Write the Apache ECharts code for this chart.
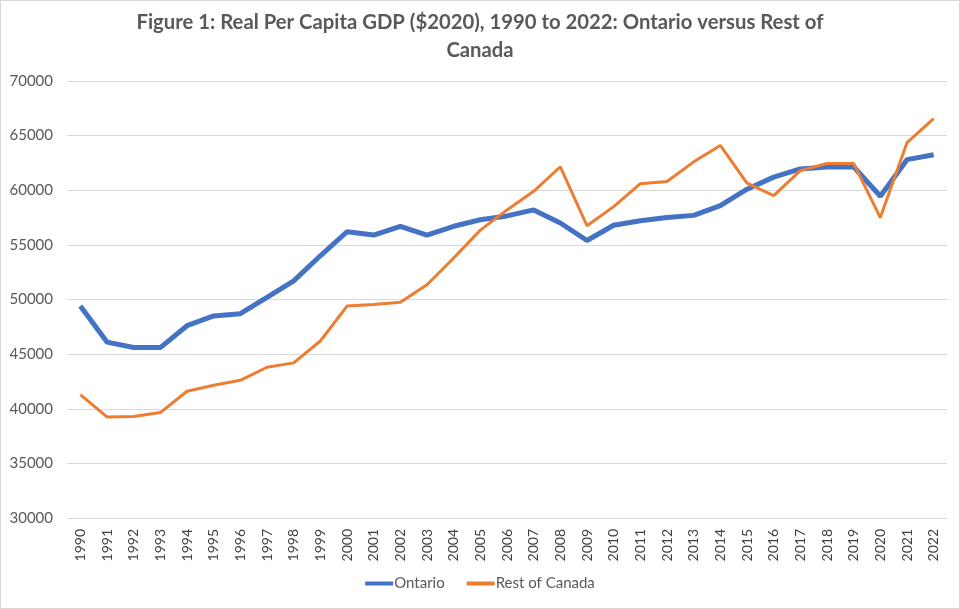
<!DOCTYPE html>
<html>
<head>
<meta charset="utf-8">
<script src="https://cdn.jsdelivr.net/npm/echarts@6/dist/echarts.min.js"></script>
<style>
html,body{margin:0;padding:0;background:#fff;}
#chart{width:960px;height:609px;box-sizing:border-box;border:1px solid #d9d9d9;}
</style>
</head>
<body>
<div id="chart"></div>
<script>
const years = ['1990','1991','1992','1993','1994','1995','1996','1997','1998','1999','2000','2001','2002','2003','2004','2005','2006','2007','2008','2009','2010','2011','2012','2013','2014','2015','2016','2017','2018','2019','2020','2021','2022'];
const ontario = [49400,46100,45600,45600,47600,48500,48700,50200,51700,54000,56200,55900,56700,55900,56700,57300,57650,58200,57000,55400,56800,57200,57500,57700,58600,60100,61200,61950,62120,62150,59450,62800,63250];
const restOfCanada = [41300,39250,39300,39650,41600,42150,42600,43800,44200,46200,49400,49550,49750,51350,53800,56350,58200,59900,62150,56750,58500,60600,60800,62600,64100,60650,59500,61800,62450,62450,57500,64350,66550];
const titleText = 'Figure 1: Real Per Capita GDP ($2020), 1990 to 2022: Ontario versus Rest of\nCanada';

const chart = echarts.init(document.getElementById('chart'));
chart.setOption({
  animation: false,
  backgroundColor: '#fff',
  textStyle: { fontFamily: 'Lato' },
  title: {
    text: titleText,
    left: 'center',
    top: 2,
    textStyle: { fontFamily: 'Lato', fontSize: 20.3, fontWeight: 'bold', color: '#595959', lineHeight: 28, align: 'center' }
  },
  grid: { left: 66, right: 12, top: 80, bottom: 90, containLabel: false },
  xAxis: {
    type: 'category',
    data: years,
    boundaryGap: true,
    axisLine: { lineStyle: { color: '#d9d9d9', width: 1 } },
    axisTick: { show: false },
    axisLabel: { rotate: 90, color: '#404040', fontSize: 14, margin: 11, interval: 0 }
  },
  yAxis: {
    type: 'value',
    min: 30000, max: 70000, interval: 5000,
    axisLine: { show: false },
    axisTick: { show: false },
    splitLine: { lineStyle: { color: '#d9d9d9', width: 1 } },
    axisLabel: { color: '#595959', fontSize: 15, margin: 14, formatter: function (v) { return String(v); } }
  },
  legend: {
    bottom: 12,
    left: 'center',
    icon: 'rect',
    itemWidth: 28,
    itemHeight: 4,
    itemGap: 22,
    textStyle: { color: '#595959', fontSize: 15, padding: [0, 0, 0, -4] },
    data: ['Ontario', 'Rest of Canada']
  },
  series: [
    { name: 'Ontario', type: 'line', data: ontario, symbol: 'none', lineStyle: { color: '#4472C4', width: 5 }, itemStyle: { color: '#4472C4' }, z: 2 },
    { name: 'Rest of Canada', type: 'line', data: restOfCanada, symbol: 'none', lineStyle: { color: '#ED7D31', width: 3 }, itemStyle: { color: '#ED7D31' }, z: 3 }
  ]
});
</script>
</body>
</html>
